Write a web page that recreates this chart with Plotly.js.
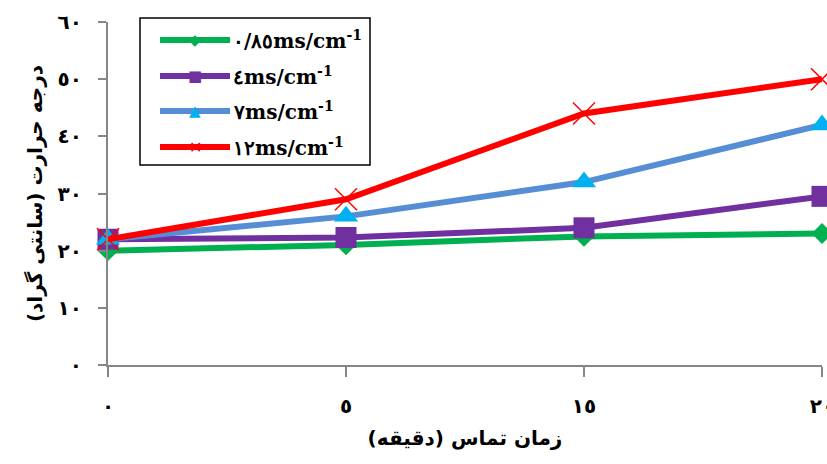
<!DOCTYPE html>
<html>
<head>
<meta charset="utf-8">
<script src="https://cdn.plot.ly/plotly-3.0.1.min.js"></script>
<style>html,body{margin:0;padding:0;background:#fff;}#chart{width:827px;height:464px;}</style>
</head>
<body>
<div id="chart"></div>
<script>
// Data
const timeCategories = ["٠", "٥", "١٥", "٢٠"];          // contact time (minutes)
const seriesNames = ["٠/٨٥ms/cm<sup>-1</sup>", "٤ms/cm<sup>-1</sup>", "٧ms/cm<sup>-1</sup>", "١٢ms/cm<sup>-1</sup>"];
const temp085 = [20, 21, 22.5, 23];
const temp4   = [22, 22.3, 24, 29.5];
const temp7   = [22, 26, 32, 42];
const temp12  = [22, 29, 44, 50];
const yTickVals = [0, 10, 20, 30, 40, 50, 60];
const yTickText = ["٠", "١٠", "٢٠", "٣٠", "٤٠", "٥٠", "٦٠"];

const lineColors = ["#00B050", "#7030A0", "#558ED5", "#FF0000"];
const markerColors = ["#00B050", "#7030A0", "#00B0F0", "#FF0000"];
const symbols = ["diamond", "square", "triangle-up", "x-thin-open"];
const sizes = [16, 21, 21, 22];
const legendGlyphs = ["◆", "■", "▲", "✕"];
const values = [temp085, temp4, temp7, temp12];

const traces = values.map((v, i) => ({
  type: "scatter",
  mode: "lines+markers",
  x: timeCategories,
  y: v,
  name: seriesNames[i],
  cliponaxis: false,
  line: {color: lineColors[i], width: 6},
  marker: i === 3
    ? {symbol: symbols[i], size: sizes[i], color: markerColors[i], line: {color: markerColors[i], width: 1.5}}
    : {symbol: symbols[i], size: sizes[i], color: markerColors[i], line: {width: 0}}
}));

// manual legend (paper coords)
const plotL = 108, plotR = 822, plotT = 22, plotB = 365;
const px2x = p => (p - plotL) / (plotR - plotL);
const py2y = p => (plotB - p) / (plotB - plotT);
const rowsPx = [40, 76, 111, 147];
const shapes = [{
  type: "rect", xref: "paper", yref: "paper",
  x0: px2x(140), x1: px2x(370), y0: py2y(165), y1: py2y(18),
  line: {color: "#000", width: 1.5}, fillcolor: "rgba(0,0,0,0)"
}];
const annotations = [];
rowsPx.forEach((r, i) => {
  shapes.push({type: "line", xref: "paper", yref: "paper",
    x0: px2x(160), x1: px2x(230), y0: py2y(r), y1: py2y(r),
    line: {color: lineColors[i], width: 6}});
  annotations.push({xref: "paper", yref: "paper", x: px2x(195), y: py2y(r),
    text: legendGlyphs[i], showarrow: false, xanchor: "center", yanchor: "middle",
    font: {family: "DejaVu Sans", size: i === 3 ? 16 : 15, color: markerColors[i]}});
  annotations.push({xref: "paper", yref: "paper", x: px2x(231), y: py2y(r),
    text: seriesNames[i], showarrow: false, xanchor: "left", yanchor: "middle",
    font: {family: "DejaVu Serif", size: 20, color: "#000", weight: "bold"}});
});

const layout = {
  width: 827, height: 464,
  margin: {l: 108, r: 5, t: 22, b: 99},
  paper_bgcolor: "#fff", plot_bgcolor: "#fff",
  showlegend: false,
  xaxis: {
    type: "category", range: [0, 3],
    showline: true, linecolor: "#868686", linewidth: 2,
    showgrid: false, zeroline: false,
    ticks: "outside", ticklen: 10, tickwidth: 2, tickcolor: "#868686",
    ticklabelstandoff: 12,
    tickfont: {family: "DejaVu Sans", size: 20, color: "#000", weight: "bold"},
    title: {text: "زمان تماس (دقیقه)", font: {family: "DejaVu Sans", size: 20, color: "#000", weight: "bold"}, standoff: 14}
  },
  yaxis: {
    range: [0, 60],
    showline: true, linecolor: "#868686", linewidth: 2,
    showgrid: false, zeroline: false,
    tickvals: yTickVals, ticktext: yTickText,
    ticks: "outside", ticklen: 8, tickwidth: 2, tickcolor: "#868686",
    ticklabelstandoff: 12,
    tickfont: {family: "DejaVu Sans", size: 20, color: "#000", weight: "bold"},
    title: {text: "درجه حرارت (سانتی گراد)", font: {family: "DejaVu Sans", size: 20, color: "#000", weight: "bold"}, standoff: 10}
  },
  shapes: shapes,
  annotations: annotations
};

Plotly.newPlot("chart", traces, layout, {staticPlot: true, displayModeBar: false});
</script>
</body>
</html>
